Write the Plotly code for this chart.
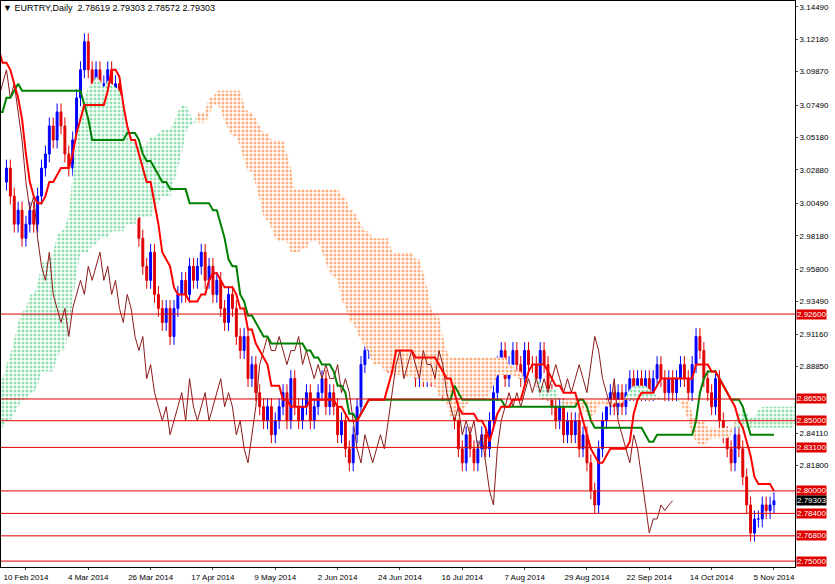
import plotly.graph_objects as go
import numpy as np

# closes before the visible window (Nov 2013 - Jan 2014), needed for Ichimoku history
pre_closes = [2.73,2.74,2.74,2.75,2.76, 2.76,2.77,2.76,2.75,2.76, 2.76,2.77,2.78,2.77,2.78,
              2.78,2.79,2.78,2.80,2.79, 2.79,2.80,2.81,2.80,2.80, 2.81,2.82,2.83,2.84,2.83,
              2.85,2.87,2.89,2.92,2.94, 2.93,2.95,2.96,2.95,2.97, 2.97,2.98,2.99,3.00,2.99,
              3.01,3.00,3.02,3.04,3.03, 3.02,3.04,3.06,3.05,3.06, 3.08,3.12,3.16,3.19,3.17,
              3.15,3.10,3.06,3.04,3.02]
closes = [3.03,3.01,2.99,3.00,2.98, 2.99,3.00,2.99,3.01,3.03, 3.04,3.06,3.05,3.07,3.06,
          3.04,3.03,3.05,3.08,3.10, 3.12,3.10,3.09,3.10,3.08, 3.09,3.10,3.08,3.09,3.07,
          3.05,3.02,3.00,3.01,2.98, 2.96,2.95,2.97,2.94,2.93, 2.92,2.93,2.91,2.93,2.94,
          2.95,2.94,2.96,2.95,2.96, 2.97,2.95,2.96,2.94,2.95, 2.93,2.92,2.94,2.93,2.91,
          2.90,2.91,2.88,2.89,2.87, 2.86,2.85,2.86,2.84,2.85, 2.86,2.87,2.85,2.88,2.86,
          2.85,2.86,2.87,2.85,2.86, 2.87,2.88,2.86,2.87,2.86, 2.84,2.85,2.83,2.82,2.84,
          2.86,2.89,2.90,2.91,2.90, 2.90,2.91,2.90,2.89,2.90, 2.90,2.91,2.89,2.90,2.89,
          2.88,2.89,2.88,2.89,2.88, 2.88,2.89,2.87,2.88,2.87, 2.85,2.83,2.82,2.84,2.83,
          2.82,2.83,2.84,2.83,2.85, 2.87,2.89,2.90,2.88,2.89, 2.90,2.89,2.88,2.90,2.89,
          2.89,2.88,2.90,2.89,2.87, 2.86,2.85,2.86,2.84,2.85, 2.84,2.85,2.83,2.84,2.82,
          2.80,2.79,2.83,2.85,2.86, 2.87,2.86,2.87,2.86,2.87, 2.88,2.87,2.88,2.87,2.88,
          2.87,2.88,2.89,2.88,2.87, 2.88,2.87,2.88,2.89,2.88, 2.87,2.89,2.91,2.90,2.88,
          2.87,2.86,2.88,2.85,2.84, 2.83,2.82,2.84,2.83,2.81, 2.79,2.77,2.78,2.78,2.79,
          2.786,2.790,2.793]
wick = 0.006
tick_vals = [3.14490,3.12180,3.09870,3.07490,3.05180,3.02880,3.00490,2.98180,2.95800,
             2.93490,2.91160,2.88850,2.84110,2.81800]
date_labels = ["10 Feb 2014","4 Mar 2014","26 Mar 2014","17 Apr 2014","9 May 2014","2 Jun 2014",
               "24 Jun 2014","16 Jul 2014","7 Aug 2014","29 Aug 2014","22 Sep 2014","14 Oct 2014","5 Nov 2014"]
date_idx = [5,21,37,53,69,85,101,117,133,149,165,181,197]
levels = [2.926,2.8655,2.85,2.831,2.80,2.784,2.768,2.75]
last_price = 2.79303

allc = np.array(pre_closes + closes)
P = len(pre_closes)
opens = np.concatenate([[allc[0]], allc[:-1]])
highs = np.maximum(opens, allc) + wick
lows = np.minimum(opens, allc) - wick
x_all = np.arange(len(allc)) - P

def mid(n):
    h = np.array([highs[max(0,i-n+1):i+1].max() for i in range(len(allc))])
    l = np.array([lows[max(0,i-n+1):i+1].min() for i in range(len(allc))])
    return (h+l)/2
tenkan = mid(9); kijun = mid(26); sb = mid(52)
sa = (tenkan+kijun)/2
x_span = x_all + 26

fig = go.Figure()
diff = sa - sb
i = 0
n = len(sa)
while i < n:
    j = i
    up = diff[i] >= 0
    while j+1 < n and (diff[j+1] >= 0) == up:
        j += 1
    end = min(j+2, n)
    xs = x_span[i:end]
    a = sa[i:end]; b = sb[i:end]
    col = "#1fc060" if up else "#ff5a00"
    fig.add_trace(go.Scatter(x=xs, y=b, mode="lines", line=dict(width=0), showlegend=False, hoverinfo="skip"))
    fig.add_trace(go.Scatter(x=xs, y=a, mode="lines", line=dict(width=0), fill="tonexty",
                             fillcolor="rgba(0,0,0,0)",
                             fillpattern=dict(shape=".", fgcolor=col, bgcolor="white", size=4, solidity=0.45),
                             showlegend=False, hoverinfo="skip"))
    i = j+1

for lv in levels:
    fig.add_shape(type="line", xref="paper", x0=0, x1=1, y0=lv, y1=lv, line=dict(color="#e00000", width=1))

vis = x_all >= 0
fig.add_trace(go.Scatter(x=x_all - 26, y=allc, mode="lines", line=dict(color="#8b1a1a", width=1), showlegend=False))
fig.add_trace(go.Candlestick(x=x_all[vis], open=opens[vis], high=highs[vis], low=lows[vis], close=allc[vis],
                             increasing=dict(line=dict(color="#0000ff", width=1), fillcolor="#0000ff"),
                             decreasing=dict(line=dict(color="#e00000", width=1), fillcolor="#e00000"),
                             whiskerwidth=0, showlegend=False))
fig.add_trace(go.Scatter(x=x_all, y=kijun, mode="lines", line=dict(color="#008000", width=2), showlegend=False))
fig.add_trace(go.Scatter(x=x_all, y=tenkan, mode="lines", line=dict(color="#ff0000", width=2), showlegend=False))

for lv in levels:
    fig.add_annotation(x=1, xref="paper", y=lv, xanchor="left", xshift=1, text=f"{lv:.5f}", showarrow=False,
                       bgcolor="#e00000", font=dict(color="white", size=8, family="Arial"), borderpad=0)
fig.add_annotation(x=1, xref="paper", y=last_price, xanchor="left", xshift=1, text=f"{last_price:.5f}", showarrow=False,
                   bgcolor="black", font=dict(color="white", size=8, family="Arial"), borderpad=0)
fig.add_annotation(x=0, xref="paper", y=1, yref="paper", xanchor="left", yanchor="top",
                   text="▼ EURTRY,Daily  2.78619 2.79303 2.78572 2.79303", showarrow=False,
                   font=dict(size=9, color="black", family="Arial"))

fig.update_layout(width=835, height=584, margin=dict(l=1, r=40, t=1, b=17, pad=0),
                  paper_bgcolor="white", plot_bgcolor="white",
                  xaxis=dict(range=[-1.4, 202.4], tickvals=date_idx, ticktext=date_labels, showgrid=False,
                             rangeslider=dict(visible=False), showline=True, linecolor="black", mirror=True,
                             ticks="outside", ticklen=2, tickfont=dict(size=8, family="Arial", color="black")),
                  yaxis=dict(range=[2.7458, 3.1490], side="right", tickvals=tick_vals,
                             tickformat=".5f", showgrid=False, showline=True, linecolor="black", mirror=True,
                             ticks="outside", ticklen=2, tickfont=dict(size=8, family="Arial", color="black")))
fig.write_html("out.html", config={"displayModeBar": False},
               post_script="document.body.style.margin='0';document.body.style.overflow='hidden';")
